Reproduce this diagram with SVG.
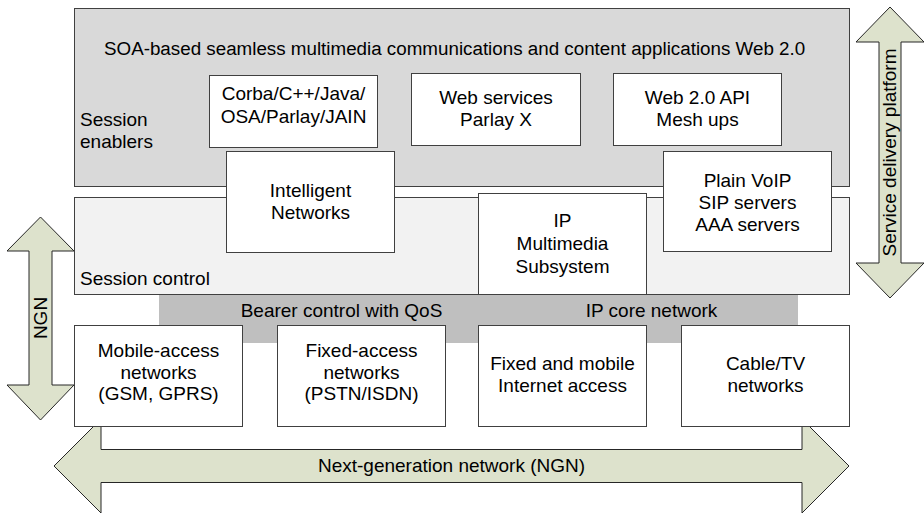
<svg xmlns="http://www.w3.org/2000/svg" width="924" height="514" viewBox="0 0 924 514">
<style>
  text { font-family: "Liberation Sans", Arial, sans-serif; font-size: 19px; fill: #000; }
  .c { text-anchor: middle; }
  .box { fill: #ffffff; stroke: #404040; stroke-width: 1; }
  .layer1 { fill: #d9d9d9; stroke: #404040; stroke-width: 1; }
  .layer2 { fill: #f2f2f2; stroke: #404040; stroke-width: 1; }
  .band { fill: #bfbfbf; stroke: none; }
  .arrow { fill: #dde2cc; stroke: #262626; stroke-width: 1; }
</style>
<rect width="924" height="514" fill="#ffffff"/>

<g id="connectors">
  <g id="arrow-ngn-horizontal">
    <polygon class="arrow" points="54,466 101,419 101,449.5 802,449.5 802,419 849,466 802,513 802,482.5 101,482.5 101,513"/>
    <text class="c" x="451.5" y="472">Next-generation network (NGN)</text>
  </g>
  <g id="arrow-ngn-vertical">
    <polygon class="arrow" points="40.5,217 74,251 52,251 52,385 74,385 40.5,420 7,385 29,385 29,251 7,251"/>
    <text class="c" transform="translate(47.3,318) rotate(-90)">NGN</text>
  </g>
  <g id="arrow-sdp">
    <polygon class="arrow" points="890,7 924,42 901,42 901,263 924,263 890,298 856,263 879,263 879,42 856,42"/>
    <text class="c" transform="translate(896,152.5) rotate(-90)">Service delivery platform</text>
  </g>
</g>

<g id="session-enablers">
  <rect class="layer1" x="74.5" y="8.5" width="775" height="178"/>
  <text x="104" y="55" style="font-size:18.8px">SOA-based seamless multimedia communications and content applications Web 2.0</text>
  <text x="80" y="126">Session</text>
  <text x="80" y="148">enablers</text>
</g>

<g id="session-control">
  <rect class="layer2" x="74.5" y="197.5" width="775" height="97"/>
  <text x="80" y="285">Session control</text>
</g>

<g id="bearer-band">
  <rect class="band" x="159" y="295" width="639" height="48"/>
  <text class="c" x="341.5" y="317">Bearer control with QoS</text>
  <text class="c" x="651.5" y="317">IP core network</text>
</g>

<g id="corba">
  <rect class="box" x="209.5" y="75.5" width="168" height="72"/>
  <text class="c" x="293.5" y="100">Corba/C++/Java/</text>
  <text class="c" x="293.5" y="123">OSA/Parlay/JAIN</text>
</g>

<g id="web-services">
  <rect class="box" x="411.5" y="73.5" width="169" height="72"/>
  <text class="c" x="496" y="104">Web services</text>
  <text class="c" x="496" y="126">Parlay X</text>
</g>

<g id="web20">
  <rect class="box" x="613.5" y="73.5" width="168" height="72"/>
  <text class="c" x="697.5" y="104">Web 2.0 API</text>
  <text class="c" x="697.5" y="126">Mesh ups</text>
</g>

<g id="intelligent-networks">
  <rect class="box" x="226.5" y="151.5" width="168" height="101"/>
  <text class="c" x="310.5" y="197">Intelligent</text>
  <text class="c" x="310.5" y="218.5">Networks</text>
</g>

<g id="plain-voip">
  <rect class="box" x="663.5" y="151.5" width="168" height="100"/>
  <text class="c" x="747.5" y="187">Plain VoIP</text>
  <text class="c" x="747.5" y="209">SIP servers</text>
  <text class="c" x="747.5" y="231">AAA servers</text>
</g>

<g id="ims">
  <rect class="box" x="478.5" y="193.5" width="168" height="101"/>
  <text class="c" x="562.5" y="227">IP</text>
  <text class="c" x="562.5" y="250">Multimedia</text>
  <text class="c" x="562.5" y="272.5">Subsystem</text>
</g>

<g id="mobile-access">
  <rect class="box" x="74.5" y="325.5" width="168" height="101"/>
  <text class="c" x="158.5" y="357">Mobile-access</text>
  <text class="c" x="158.5" y="379">networks</text>
  <text class="c" x="158.5" y="400">(GSM, GPRS)</text>
</g>

<g id="fixed-access">
  <rect class="box" x="277.5" y="325.5" width="168" height="101"/>
  <text class="c" x="361.5" y="357">Fixed-access</text>
  <text class="c" x="361.5" y="379">networks</text>
  <text class="c" x="361.5" y="400">(PSTN/ISDN)</text>
</g>

<g id="internet-access">
  <rect class="box" x="478.5" y="325.5" width="168" height="101"/>
  <text class="c" x="562.5" y="370">Fixed and mobile</text>
  <text class="c" x="562.5" y="392">Internet access</text>
</g>

<g id="cable-tv">
  <rect class="box" x="681.5" y="325.5" width="168" height="101"/>
  <text class="c" x="765.5" y="370">Cable/TV</text>
  <text class="c" x="765.5" y="392">networks</text>
</g>
</svg>
